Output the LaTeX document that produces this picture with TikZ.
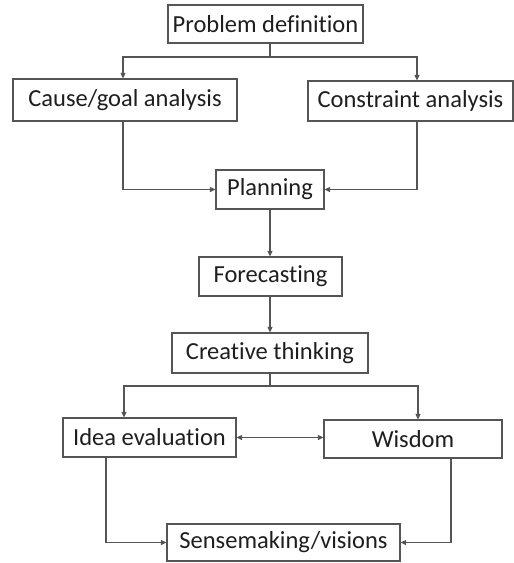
\documentclass[tikz,border=0pt]{standalone}
\usepackage{fontspec}
\setmainfont{Carlito}[Ligatures=NoCommon]
\usetikzlibrary{arrows.meta}
\definecolor{linegray}{HTML}{555555}
\definecolor{textgray}{HTML}{1E1E1E}
\begin{document}
\begin{tikzpicture}[x=1pt,y=-1pt,
  box/.style={draw=linegray, line width=1.2pt, text=textgray, inner sep=0pt,
    font=\fontsize{24.5}{28}\selectfont},
  link/.style={draw=linegray, line width=1.1pt},
  arr/.style={link, -{Triangle[length=5.5pt,width=5pt]}},
  biarr/.style={link, {Triangle[length=5.5pt,width=5pt]}-{Triangle[length=5.5pt,width=5pt]}}]
\useasboundingbox (0,0) rectangle (514,563);

% boxes
\node[box, minimum width=195pt, minimum height=38pt] (pd) at (265.5,24) {Problem definition};
\node[box, minimum width=224pt, minimum height=42pt] (cause) at (125,100) {Cause/goal analysis};
\node[box, minimum width=205pt, minimum height=40pt] (constr) at (410.5,101) {Constraint analysis};
\node[box, minimum width=108pt, minimum height=39pt] (plan) at (270,189.5) {Planning};
\node[box, minimum width=143pt, minimum height=39pt] (fore) at (270.5,276.5) {Forecasting};
\node[box, minimum width=196pt, minimum height=40pt] (creat) at (270,353) {Creative thinking};
\node[box, minimum width=173pt, minimum height=39pt] (idea) at (149.5,437.5) {Idea evaluation};
\node[box, minimum width=178pt, minimum height=38pt] (wis) at (413,439) {Wisdom};
\node[box, minimum width=233pt, minimum height=37pt] (sense) at (283.5,542.5) {Sensemaking/visions};

% column positions of the vertical runs
\coordinate (b1) at (270,57);
\coordinate (b2) at (270,386);
\coordinate (xl) at (123,0);
\coordinate (xr) at (417,0);
\coordinate (xi) at (106,0);
\coordinate (xw) at (451,0);
\coordinate (xil) at (124,0);
\coordinate (xwr) at (418,0);

% problem definition splits into the two analyses
\draw[link] (b1 |- pd.south) -- (b1);
\draw[arr] (b1) -| (cause.north -| xl);
\draw[arr] (b1) -| (constr.north -| xr);

% analyses feed planning
\draw[arr] (cause.south -| xl) |- (plan.west);
\draw[arr] (constr.south -| xr) |- (plan.east);

% main chain
\draw[arr] (plan.south) -- (fore.north -| plan.south);
\draw[arr] (fore.south -| plan.south) -- (creat.north -| plan.south);

% creative thinking splits
\draw[link] (b2 |- creat.south) -- (b2);
\draw[arr] (b2) -| (idea.north -| xil);
\draw[arr] (b2) -| (wis.north -| xwr);

% evaluation and wisdom
\draw[biarr] (idea.east) -- (wis.west |- idea.east);

% both lead to sensemaking
\draw[arr] (idea.south -| xi) |- (sense.west);
\draw[arr] (wis.south -| xw) |- (sense.east);
\end{tikzpicture}
\end{document}
